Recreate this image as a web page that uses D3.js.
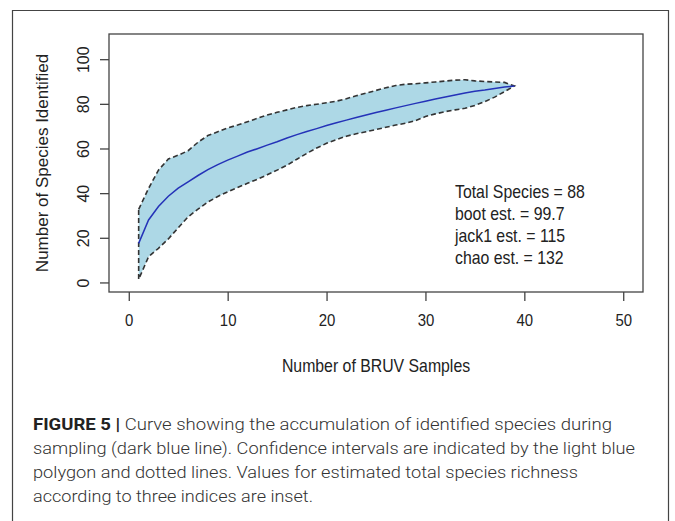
<!DOCTYPE html>
<html><head><meta charset="utf-8">
<script src="https://cdn.jsdelivr.net/npm/d3@7"></script>
<style>
html,body{margin:0;padding:0;background:#fff;}
svg{display:block;}
</style></head>
<body>
<svg id="chart" width="675" height="521"></svg>
<script>
// ---- data ----
const samples = d3.range(1, 40); // 1..39
const richness = [17.5,28.0,34.0,38.6,42.2,45.1,47.9,50.5,52.8,54.8,56.6,58.4,59.9,61.5,63.0,64.7,66.2,67.6,68.9,70.3,71.5,72.7,73.9,75.0,76.1,77.1,78.2,79.2,80.2,81.2,82.2,83.1,84.0,84.9,85.6,86.2,86.9,87.5,88.0];
const upperCI = [32.7,42.1,50.3,55.3,57.0,59.0,62.8,65.8,67.5,69.2,70.5,72.0,73.5,75.0,76.2,77.3,78.4,79.2,79.8,80.5,81.2,82.3,83.6,84.8,86.0,87.2,88.2,88.8,89.0,89.4,89.8,90.2,90.6,90.8,90.3,90.0,89.8,89.6,88.0];
const lowerCI = [1.4,11.5,15.3,19.5,24.5,29.4,32.8,36.0,38.5,40.6,42.5,44.4,46.2,48.2,50.3,52.5,55.2,57.8,60.2,62.3,64.0,65.5,66.6,67.5,68.5,69.5,70.5,71.3,72.5,74.3,75.5,76.5,77.3,78.0,79.3,81.0,83.0,85.5,88.0];
const xTicks = [0,10,20,30,40,50];
const yTicks = [0,20,40,60,80,100];
const insetLines = ["Total Species = 88","boot est. = 99.7","jack1 est. = 115","chao est. = 132"];
const xTitle = "Number of BRUV Samples";
const yTitle = "Number of Species Identified";
const captionBold = "FIGURE 5 |";
const captionLines = [
  " Curve showing the accumulation of identified species during",
  "sampling (dark blue line). Confidence intervals are indicated by the light blue",
  "polygon and dotted lines. Values for estimated total species richness",
  "according to three indices are inset."
];

// ---- layout ----
const svg = d3.select("#chart");
const box = {left:109, right:643, top:34, bottom:292};
const x = d3.scaleLinear().domain([-2, 52]).range([box.left, box.right]);
const y = d3.scaleLinear().domain([-4.28, 111.28]).range([box.bottom, box.top]);
const plotFont = "'Liberation Sans', Arial, sans-serif";
const sx = 0.88;

// figure frame
svg.append("path")
  .attr("d", `M12.5,521 V10.5 H668.5 V521`)
  .attr("fill","none").attr("stroke","#444").attr("stroke-width",1.2);

// CI polygon
const pts = samples.map((s,i)=>[s, upperCI[i]]).concat(samples.map((s,i)=>[s, lowerCI[i]]).reverse());
svg.append("path")
  .attr("d", d3.line().x(d=>x(d[0])).y(d=>y(d[1]))(pts) + "Z")
  .attr("fill","#add8e6").attr("stroke","none");
// dashed CI borders
svg.append("path")
  .attr("d", d3.line().x(d=>x(d[0])).y(d=>y(d[1]))(pts) + "Z")
  .attr("fill","none").attr("stroke","#333").attr("stroke-width",1.6)
  .attr("stroke-dasharray","5,3");
// main curve
svg.append("path")
  .attr("d", d3.line().x((d,i)=>x(samples[i])).y(d=>y(d))(richness))
  .attr("fill","none").attr("stroke","#2432b8").attr("stroke-width",1.5);

// box
svg.append("rect")
  .attr("x",box.left).attr("y",box.top)
  .attr("width",box.right-box.left).attr("height",box.bottom-box.top)
  .attr("fill","none").attr("stroke","#444").attr("stroke-width",1.3);

// x axis
const gx = svg.append("g").attr("transform",`translate(0,${box.bottom})`)
  .call(d3.axisBottom(x).tickValues(xTicks).tickSize(9).tickPadding(13).tickFormat(d3.format("d")));
gx.select(".domain").remove();
gx.selectAll("line").attr("stroke","#444").attr("stroke-width",1.3);
gx.selectAll("text").attr("font-family",plotFont).attr("font-size",17).attr("fill","#222")
  .attr("transform",`scale(${sx},1)`).attr("x",0);

// y axis
const gy = svg.append("g").attr("transform",`translate(${box.left},0)`)
  .call(d3.axisLeft(y).tickValues(yTicks).tickSize(9).tickFormat(d3.format("d")));
gy.select(".domain").remove();
gy.selectAll("line").attr("stroke","#444").attr("stroke-width",1.3);
gy.selectAll("text").attr("font-family",plotFont).attr("font-size",16).attr("fill","#222")
  .attr("text-anchor","middle").attr("dy",null).attr("x",null)
  .attr("transform","translate(-26,0) rotate(-90) translate(0,6)");

// axis titles
svg.append("text").attr("transform",`translate(${(x(0)+x(50))/2},372) scale(${sx},1)`)
  .attr("text-anchor","middle").attr("font-family",plotFont).attr("font-size",18).attr("fill","#222")
  .text(xTitle);
svg.append("text").attr("transform",`translate(48,${(box.top+box.bottom)/2}) rotate(-90)`)
  .attr("text-anchor","middle").attr("font-family",plotFont).attr("font-size",17).attr("fill","#222")
  .text(yTitle);

// inset text
insetLines.forEach((t,i)=>{
  svg.append("text").attr("transform",`translate(455,${198+i*22}) scale(${sx},1)`)
    .attr("font-family",plotFont).attr("font-size",18).attr("fill","#222").text(t);
});

// caption
const capFont = "Roboto, 'Liberation Sans', sans-serif";
const capWidths = [579, 602, 545, 280];
captionLines.forEach((t,i)=>{
  const tx = svg.append("text").attr("x",33).attr("y",430+i*24)
    .attr("font-family",capFont).attr("font-size",17).attr("font-weight",300).attr("fill","#333")
    .attr("textLength",capWidths[i]).attr("lengthAdjust","spacingAndGlyphs");
  if(i===0){
    tx.append("tspan").attr("font-weight",700).attr("fill","#222").text(captionBold);
  }
  tx.append("tspan").text(t);
});
</script>
</body></html>
